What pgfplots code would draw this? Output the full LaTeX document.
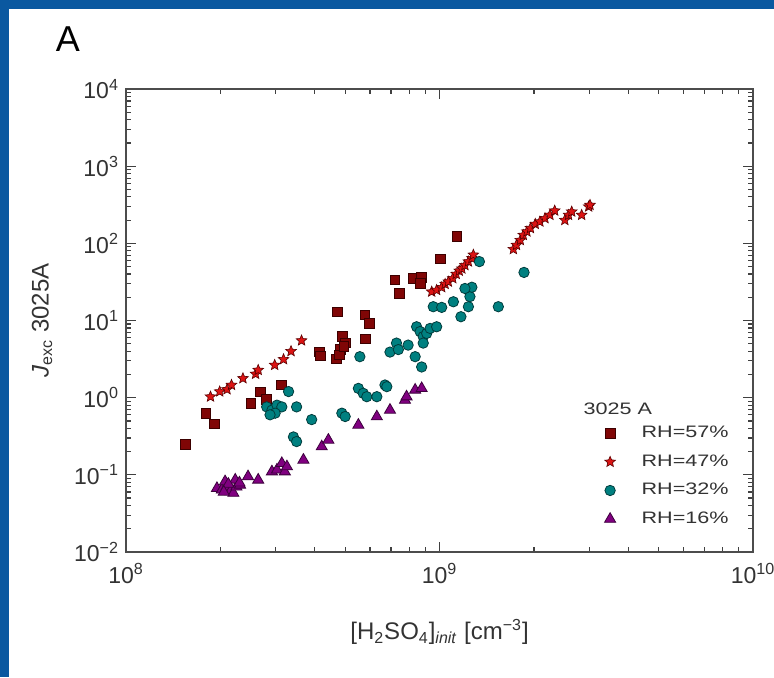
\documentclass[border=0pt]{standalone}
\usepackage{fontspec}
\setmainfont{Liberation Sans}
\newfontfamily\legfont{Liberation Sans}[FakeStretch=1.3]
\usepackage{pgfplots}
\usepackage{pgfplotstable}
\pgfplotsset{compat=1.18}
\definecolor{slideblue}{RGB}{10,88,160}
\definecolor{sqfill}{RGB}{128,6,6}
\definecolor{sqdraw}{RGB}{60,0,0}
\definecolor{stfill}{RGB}{220,20,20}
\definecolor{stdraw}{RGB}{90,0,0}
\definecolor{cifill}{RGB}{0,128,128}
\definecolor{cidraw}{RGB}{0,60,60}
\definecolor{trfill}{RGB}{128,0,128}
\definecolor{trdraw}{RGB}{60,0,60}
\pgfdeclareplotmark{fstar}{%
  \pgfpathmoveto{\pgfpointpolar{90}{\pgfplotmarksize}}%
  \pgfpathlineto{\pgfpointpolar{126}{0.45\pgfplotmarksize}}%
  \pgfpathlineto{\pgfpointpolar{162}{\pgfplotmarksize}}%
  \pgfpathlineto{\pgfpointpolar{198}{0.45\pgfplotmarksize}}%
  \pgfpathlineto{\pgfpointpolar{234}{\pgfplotmarksize}}%
  \pgfpathlineto{\pgfpointpolar{270}{0.45\pgfplotmarksize}}%
  \pgfpathlineto{\pgfpointpolar{306}{\pgfplotmarksize}}%
  \pgfpathlineto{\pgfpointpolar{342}{0.45\pgfplotmarksize}}%
  \pgfpathlineto{\pgfpointpolar{18}{\pgfplotmarksize}}%
  \pgfpathlineto{\pgfpointpolar{54}{0.45\pgfplotmarksize}}%
  \pgfpathclose
  \pgfusepathqfillstroke}

\pgfplotstableread{
x y
1.55e8 0.25
1.80e8 0.63
1.91e8 0.46
2.50e8 0.84
2.68e8 1.19
2.80e8 0.95
3.13e8 1.47
4.14e8 3.9
4.16e8 3.5
4.69e8 3.2
4.72e8 13.0
4.83e8 4.2
4.91e8 6.2
5.00e8 5.1
4.80e8 3.6
4.95e8 4.6
5.78e8 11.8
5.97e8 9.2
5.80e8 5.8
7.20e8 33.5
7.45e8 22.5
8.24e8 35
8.77e8 36
8.67e8 30
1.005e9 63
1.135e9 122
}\sqdata

\pgfplotstableread{
x y
1.86e8 1.03
1.99e8 1.20
2.10e8 1.28
2.17e8 1.46
2.36e8 1.78
2.59e8 2.03
2.64e8 2.28
2.98e8 2.65
3.18e8 3.14
3.36e8 4.0
3.63e8 5.5
9.44e8 23.6
9.79e8 24.8
1.016e9 26.9
1.042e9 29.7
1.067e9 31.8
1.102e9 35.2
1.130e9 40
1.156e9 44
1.178e9 47
1.205e9 52
1.236e9 58
1.268e9 64
1.282e9 71
1.72e9 84
1.76e9 95
1.81e9 110
1.85e9 128
1.90e9 142
1.95e9 157
2.02e9 178
2.09e9 191
2.17e9 211
2.25e9 233
2.33e9 265
2.51e9 200
2.58e9 233
2.64e9 257
2.84e9 233
2.99e9 299
3.02e9 314
}\stdata

\pgfplotstableread{
x y
3.30e8 1.20
2.81e8 0.76
2.92e8 0.69
3.03e8 0.80
3.14e8 0.76
2.99e8 0.63
2.88e8 0.60
3.50e8 0.76
3.91e8 0.52
3.42e8 0.31
3.50e8 0.27
4.88e8 0.63
5.00e8 0.57
5.57e8 3.4
5.51e8 1.32
5.71e8 1.14
5.86e8 1.03
6.31e8 1.03
6.70e8 1.46
6.79e8 1.39
6.95e8 3.9
7.29e8 5.1
7.39e8 4.2
7.94e8 4.8
8.45e8 8.3
8.67e8 7.2
8.87e8 6.2
9.10e8 6.8
9.33e8 7.9
9.79e8 8.3
8.87e8 5.1
8.36e8 3.4
8.77e8 2.5
9.55e8 15.1
1.016e9 14.8
1.107e9 17.5
1.34e9 58
1.86e9 42
1.54e9 15.1
1.17e9 11.2
1.236e9 24.8
1.25e9 20.4
1.236e9 15.1
1.268e9 27
1.205e9 26
}\cidata

\pgfplotstableread{
x y
1.95e8 0.067
2.02e8 0.064
2.09e8 0.070
2.15e8 0.061
2.20e8 0.058
2.25e8 0.070
2.31e8 0.074
2.23e8 0.086
2.07e8 0.082
2.12e8 0.076
2.05e8 0.060
2.30e8 0.079
2.45e8 0.095
2.64e8 0.086
2.92e8 0.110
3.03e8 0.116
3.14e8 0.141
3.21e8 0.110
3.26e8 0.128
3.68e8 0.156
4.21e8 0.232
4.42e8 0.283
5.51e8 0.443
6.31e8 0.568
6.95e8 0.692
7.76e8 0.93
7.85e8 1.03
8.36e8 1.26
8.77e8 1.32
}\trdata

\begin{document}
\begin{tikzpicture}
\useasboundingbox (-63pt,-62.5pt) rectangle (324pt,276pt);
\fill[slideblue] (-63pt,-62.5pt) rectangle (324pt,276pt);
\fill[white] (-58.5pt,-62.5pt) rectangle (324pt,271.5pt);
\node[font=\fontsize{18}{20}\selectfont] at (-29pt,256.5pt) {A};
\begin{axis}[
  at={(0pt,0pt)}, anchor=south west,
  scale only axis, width=313.5pt, height=231.5pt,
  xmode=log, ymode=log,
  xmin=1e8, xmax=1e10, ymin=1e-2, ymax=1e4,
  xtick={1e8,1e9,1e10},
  xticklabels={10\textsuperscript{8},10\textsuperscript{9},10\textsuperscript{10}},
  ytick={1e-2,1e-1,1,10,100,1000,10000},
  yticklabels={10\textsuperscript{−2},10\textsuperscript{−1},10\textsuperscript{0},10\textsuperscript{1},10\textsuperscript{2},10\textsuperscript{3},10\textsuperscript{4}},
  minor xtick={2e8,3e8,4e8,5e8,6e8,7e8,8e8,9e8,2e9,3e9,4e9,5e9,6e9,7e9,8e9,9e9},
  minor ytick={0.02,0.03,0.04,0.05,0.06,0.07,0.08,0.09,0.2,0.3,0.4,0.5,0.6,0.7,0.8,0.9,2,3,4,5,6,7,8,9,20,30,40,50,60,70,80,90,200,300,400,500,600,700,800,900,2000,3000,4000,5000,6000,7000,8000,9000},
  tick align=inside,
  major tick length=5pt, minor tick length=2.5pt,
  every tick/.style={black!75, line width=0.6pt},
  axis line style={black!70, line width=0.9pt},
  ticklabel style={font=\fontsize{11.5}{13}\selectfont, text=black!80},
  xticklabel style={yshift=-2pt},
  xlabel={[H\textsubscript{2}SO\textsubscript{4}]\textsubscript{\textit{init}} [cm\textsuperscript{−3}]},
  ylabel={\textit{J}\textsubscript{exc} 3025A},
  label style={font=\fontsize{12}{14}\selectfont, text=black!80},
  xlabel style={at={(axis description cs:0.5,0)}, yshift=-40pt, anchor=center},
  ylabel style={at={(axis description cs:-0.134,0.5)}, anchor=center},
  legend style={draw=none, fill=none, at={(axis description cs:0.753,0.290)}, anchor=north west,
    font=\legfont\fontsize{8.3}{9.5}\selectfont, text=black!80, row sep=3pt, column sep=11pt},
  legend cell align=left,
]
\addplot[only marks, mark=square*, mark size=2.4pt, mark options={fill=sqfill, draw=sqdraw, line width=0.4pt}] table[x=x,y=y] {\sqdata};
\addlegendentry{RH=57\%}
\addplot[only marks, mark=fstar, mark size=2.8pt, mark options={fill=stfill, draw=stdraw, line width=0.3pt}] table[x=x,y=y] {\stdata};
\addlegendentry{RH=47\%}
\addplot[only marks, mark=*, mark size=2.6pt, mark options={fill=cifill, draw=cidraw, line width=0.4pt}] table[x=x,y=y] {\cidata};
\addlegendentry{RH=32\%}
\addplot[only marks, mark=triangle*, mark size=3.2pt, mark options={fill=trfill, draw=trdraw, line width=0.4pt}] table[x=x,y=y] {\trdata};
\addlegendentry{RH=16\%}
\node[anchor=west, font=\legfont\fontsize{8.3}{9.5}\selectfont, text=black!80, inner sep=0pt] at (axis description cs:0.729,0.309) {3025 A};
\end{axis}
\end{tikzpicture}
\end{document}
